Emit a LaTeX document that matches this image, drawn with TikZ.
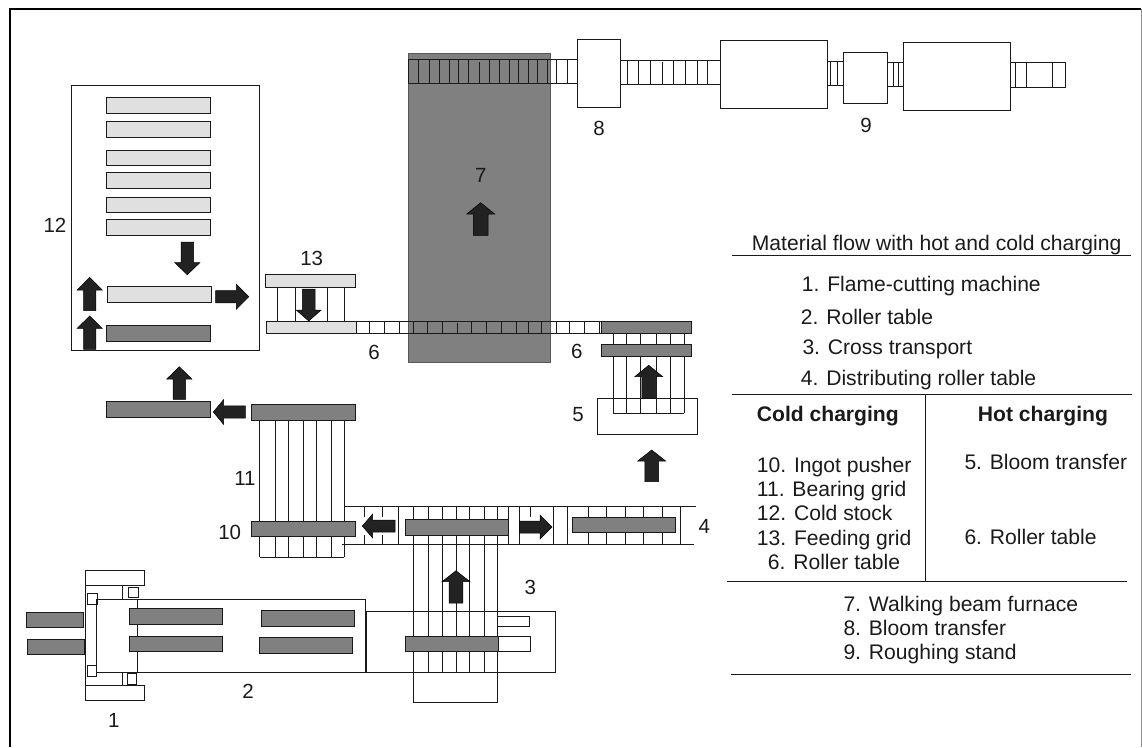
\documentclass[tikz,border=0pt]{standalone}
\usepackage{fontspec}
\setmainfont{Liberation Sans}
\definecolor{barD}{HTML}{808080}
\definecolor{barL}{HTML}{E0E0E0}
\definecolor{ink}{HTML}{1A1A1A}
\definecolor{arrowc}{HTML}{222222}
\tikzset{
  ln/.style={draw=ink,line width=0.9pt},
  box/.style={ln,fill=white},
  darkbar/.style={ln,fill=barD},
  lightbar/.style={ln,fill=barL},
  flow/.style={fill=arrowc,draw=black,line width=0.5pt,line join=miter},
  num/.style={inner sep=0pt,anchor=center,font=\fontsize{20.5}{24}\selectfont,text=ink},
  txt/.style={inner sep=0pt,anchor=base west,font=\fontsize{21.1}{25}\selectfont,text=ink},
  bold/.style={txt,font=\fontsize{21.1}{25}\selectfont\bfseries},
}
% rectangle: style, x1,y1,x2,y2
\newcommand\rct[5]{\draw[#1] (#2,#3) rectangle (#4,#5);}
% vertical lines: y1,y2,list of x
\newcommand\vls[3]{\foreach \xx in {#3} {\draw[ln] (\xx,#1) -- (\xx,#2);}}
% vertical arrow: x, tip, base, tail, half-shaft, half-head
\newcommand\varr[6]{\draw[flow] (#1,#2) -- (#1+#6,#3) -- (#1+#5,#3) -- (#1+#5,#4) -- (#1-#5,#4) -- (#1-#5,#3) -- (#1-#6,#3) -- cycle;}
% horizontal arrow: y, tip, base, tail, half-shaft, half-head
\newcommand\harr[6]{\draw[flow] (#2,#1) -- (#3,#1+#6) -- (#3,#1+#5) -- (#4,#1+#5) -- (#4,#1-#5) -- (#3,#1-#5) -- (#3,#1-#6) -- cycle;}
\begin{document}
\begin{tikzpicture}[x=1pt,y=-1pt]
\useasboundingbox (0,0) rectangle (1142,747);
% frame
\draw[black,line width=2.4pt] (9.7,747) -- (9.7,8.8) -- (1141,8.8);
\draw[black!45,line width=1pt] (1141,8.8) -- (1141,747);

% ---- furnace
\rct{draw=black!65,line width=1pt,fill=barD}{408.7}{53.3}{550}{362}
% top line with stands
\rct{ln}{408.7}{59}{577.4}{83.3}
\vls{59}{83.3}{418.3,429.6,439.1,449.1,458.7,468.7,489.1,499.1,509.6,518.7,528.3,537.8,547,556.5,567.4}
\vls{62}{83.3}{479.6}
\rct{box}{577.4}{39.3}{620.9}{107.3}
\rct{ln}{620.9}{60}{720.4}{84}
\vls{60}{84}{627,638.3,650.4,673.9,685.7,697,707.8}
\vls{62}{84}{662.2}
\rct{box}{720.4}{40.3}{827.4}{108.7}
\rct{ln}{827.4}{61}{843.5}{85.3}
\vls{61}{85.3}{830.4,837}
\rct{box}{843.5}{52.3}{887}{103.7}
\rct{ln}{887}{62.3}{903.9}{86.7}
\vls{62.3}{86.7}{893.5,898.7}
\rct{box}{903.9}{42}{1010.9}{110.3}
\rct{ln}{1010.9}{62.3}{1065}{87}
\vls{62.3}{87}{1015,1026.5,1052.6}
\varr{480.7}{202.7}{214}{235.3}{7.3}{14}

% ---- cold stock 12
\rct{box}{71.3}{85.3}{259.3}{350.7}
\rct{lightbar}{106.3}{97.3}{210.3}{113.3}
\rct{lightbar}{106.3}{121.3}{210.3}{137.3}
\rct{lightbar}{106.3}{150.3}{210.3}{165.7}
\rct{lightbar}{106.3}{172.3}{210.3}{188.3}
\rct{lightbar}{106.3}{197.3}{210.3}{212.7}
\rct{lightbar}{106.3}{219.3}{210.3}{235.3}
\rct{lightbar}{107.3}{286.3}{211.7}{302}
\rct{darkbar}{106.3}{325.7}{210.7}{341.7}
\varr{187.3}{274.7}{262.7}{242}{6.2}{12.5}
\harr{296.7}{248.7}{236.3}{215.7}{6.2}{12.5}
\varr{89.7}{277.3}{290}{310.7}{6.2}{12.5}
\varr{89.7}{316}{328.3}{349.3}{6.2}{12.5}
\varr{179.3}{366.7}{379}{399.3}{6.2}{12.5}
\harr{412}{213.3}{223.7}{245.3}{6.2}{12.5}
\rct{darkbar}{106.3}{401.7}{210.7}{417.7}

% ---- feeding grid 13 and roller table 6
\vls{287}{321}{277,295.7,327.3,344}
\rct{lightbar}{265.3}{274.3}{355}{287.3}
\rct{lightbar}{266.3}{321.3}{356}{333.7}
\varr{308.7}{321}{310}{289}{6.3}{12.5}
\rct{ln}{356}{321.3}{601.3}{333.7}
\vls{321.3}{333.7}{369.3,384.7,399.3,413.7,427.3,442.7,471.7,486.7,501.7,516,528.7,541.7,556,569.3,584.3,599}
\vls{323}{333.7}{457.3}
\rct{darkbar}{601.3}{321.3}{691}{333.7}

% ---- bloom transfer 5
\rct{box}{597.7}{398.3}{697.7}{434.3}
\vls{333.7}{413}{613,626.3,640.7,656.7,670.7,684.3}
\draw[ln] (613,413) -- (684.3,413);
\rct{darkbar}{601.3}{344}{691}{356.3}
\varr{648.7}{365.3}{376.7}{398}{6.8}{14}
\varr{651.7}{450}{461}{481.7}{6.8}{14}

% ---- bearing grid 11
\vls{420}{557}{259.7,275.7,288.7,303.3,316.7,331.3,344.3}
\draw[ln] (259.7,557) -- (344.3,557);
\rct{darkbar}{251.3}{404.3}{355}{420.3}
\rct{darkbar}{251.3}{521.3}{355}{536.3}

% ---- distributing roller table 4
\draw[ln] (344.3,506.7) -- (695.7,506.7);
\draw[ln] (342.3,544.3) -- (693.7,544.3);
\vls{506.7}{517}{364.3,382.7}
\vls{535}{544.3}{364.3,382.7}
\vls{506.7}{516.7}{530.3}
\vls{506.7}{544.3}{398.7,508.7,519.3,553,567.3,588.3,606.7,625.7,643.3,662.7,680.7}
\rct{darkbar}{572}{517}{675.7}{532.7}
\harr{526}{362.3}{372.7}{395}{6}{12}
\harr{527}{552}{540}{519.3}{6}{12}

% ---- box 3 and cross transport
\rct{ln}{366.7}{611.3}{555.3}{672}
\rct{box}{497.3}{616.3}{529.3}{626.3}
\rct{box}{498.3}{636.3}{530.3}{651.7}
\vls{506.7}{672}{428.7,442,456.7,469.7,484}
\draw[ln] (413.3,506.7) -- (413.3,702.7) -- (497.3,702.7) -- (497.3,506.7);
\rct{darkbar}{405}{519.7}{508.3}{535.3}
\rct{darkbar}{405}{636.3}{498.3}{651.7}
\varr{456}{570.7}{581.7}{603}{6.8}{14}

% ---- machine 1 and roller table 2
\rct{box}{85.5}{570.3}{144.5}{585.5}
\rct{box}{85.5}{685.3}{144.5}{700.7}
\draw[ln] (85.5,585.5) -- (85.5,685.3);
\vls{585.5}{600}{122.7}
\vls{672}{685.3}{122.7}
\rct{box}{128}{587}{138}{597}
\rct{box}{87.7}{593}{97.3}{604}
\rct{box}{87}{665.7}{96.7}{676.7}
\rct{box}{127.3}{673}{136.7}{684.3}
\draw[ln] (96.3,599.3) rectangle (365.7,672.3);
\draw[ln] (137.3,599.3) -- (137.3,672.3);
\rct{darkbar}{26.3}{612.3}{83.7}{627.7}
\rct{darkbar}{27}{639}{84.7}{654.3}
\rct{darkbar}{129.3}{608.3}{222.7}{624.3}
\rct{darkbar}{129.3}{636.3}{222.7}{651.7}
\rct{darkbar}{261}{610.7}{354}{626.7}
\rct{darkbar}{259.3}{637.3}{352.7}{653.3}

% ---- numbers
\node[num] (n1) at (113.7,720.7) {1};
\node[num] (n2) at (248,691.7) {2};
\node[num] (n3) at (530.3,587.3) {3};
\node[num] (n4) at (704.3,526.7) {4};
\node[num] (n5) at (578,414.7) {5};
\node[num] (n6a) at (374,352.3) {6};
\node[num] (n6b) at (576.7,351.3) {6};
\node[num] (n7) at (480.7,175) {7};
\node[num] (n8) at (599,128) {8};
\node[num] (n9) at (866,125) {9};
\node[num] (n10) at (229.7,532.3) {10};
\node[num] (n11) at (245,478.7) {11};
\node[num] (n12) at (55,225.7) {12};
\node[num] (n13) at (311.7,258) {13};

% ---- legend
\draw[ln] (732,255) -- (1131,255);
\draw[ln] (732.3,394.7) -- (1131.7,394.7);
\draw[ln] (925.3,394.7) -- (925.3,581.7);
\draw[ln] (726.7,581.3) -- (1126.7,581.3);
\draw[ln] (731,674) -- (1130.7,674);
\node[txt] (title) at (751.7,250.7) {Material flow with hot and cold charging};
\node[txt] (l1) at (801.7,291.7) {1. Flame-cutting machine};
\node[txt] (l2) at (800.7,324) {2. Roller table};
\node[txt] (l3) at (802.3,354) {3. Cross transport};
\node[txt] (l4) at (800.7,385.7) {4. Distributing roller table};
\node[bold] (cc) at (756.7,421.7) {Cold charging};
\node[bold] (hc) at (977.7,421.7) {Hot charging};
\node[txt] (l10) at (756.7,472.4) {10. Ingot pusher};
\node[txt] (l11) at (756.7,496.7) {11. Bearing grid};
\node[txt] (l12) at (756.7,520.7) {12. Cold stock};
\node[txt] (l13) at (756.7,545) {13. Feeding grid};
\node[txt] (l6a) at (767.7,569.3) {6. Roller table};
\node[txt] (l5) at (964.3,469.3) {5. Bloom transfer};
\node[txt] (l6b) at (964.3,544) {6. Roller table};
\node[txt] (l7) at (843.3,611) {7. Walking beam furnace};
\node[txt] (l8) at (843.3,635) {8. Bloom transfer};
\node[txt] (l9) at (843.3,659) {9. Roughing stand};
\end{tikzpicture}
\end{document}
